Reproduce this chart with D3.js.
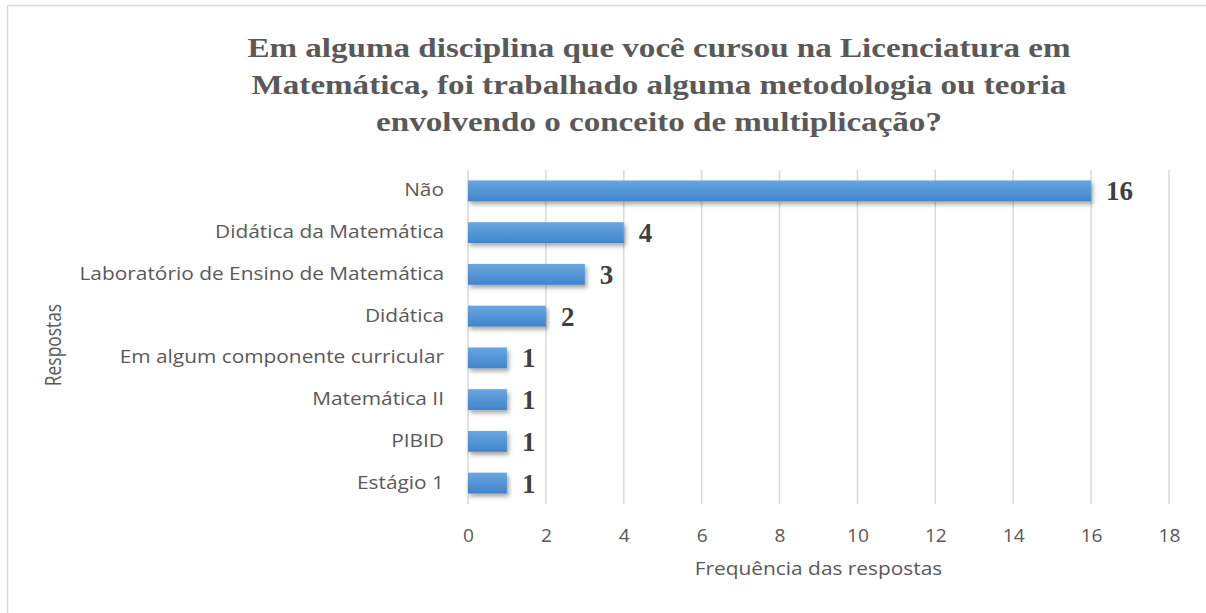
<!DOCTYPE html>
<html lang="pt">
<head>
  <meta charset="UTF-8">
  <title>Frequência das respostas</title>
  <script src="https://d3js.org/d3.v7.min.js"></script>
  <style>
    body { margin: 0; background: #fff; }
    text { fill: #595959; }
  </style>
</head>
<body>
  <div id="chart"></div>
  <script>
    // dados
    const categorias = [
      "Não",
      "Didática da Matemática",
      "Laboratório de Ensino de Matemática",
      "Didática",
      "Em algum componente curricular",
      "Matemática II",
      "PIBID",
      "Estágio 1"
    ];
    const frequencias = [16, 4, 3, 2, 1, 1, 1, 1];
    const ticksX = [0, 2, 4, 6, 8, 10, 12, 14, 16, 18];
    const tituloLinhas = [
      "Em alguma disciplina que você cursou na Licenciatura em",
      "Matemática, foi trabalhado alguma metodologia ou teoria",
      "envolvendo o conceito de multiplicação?"
    ];

    const width = 1206, height = 613;
    const margin = { top: 170, right: 37, bottom: 109, left: 468 };
    const sans = "'Open Sans', sans-serif";
    const serif = "'Liberation Serif', 'Times New Roman', serif";
    const estica = 1.2; // o original parece esticado na horizontal

    const svg = d3.select("#chart").append("svg")
      .attr("width", width)
      .attr("height", height);

    // gradiente e sombra das barras
    const defs = svg.append("defs");
    const grad = defs.append("linearGradient")
      .attr("id", "barGrad")
      .attr("x1", 0).attr("y1", 0).attr("x2", 0).attr("y2", 1);
    grad.append("stop").attr("offset", "0%").attr("stop-color", "#6aa6de");
    grad.append("stop").attr("offset", "100%").attr("stop-color", "#3f85cd");
    const sh = defs.append("filter").attr("id", "sombra")
      .attr("x", "-10%").attr("y", "-30%").attr("width", "130%").attr("height", "200%");
    sh.append("feDropShadow")
      .attr("dx", 2).attr("dy", 3).attr("stdDeviation", 2)
      .attr("flood-color", "#000").attr("flood-opacity", 0.35);

    // moldura
    svg.append("rect")
      .attr("x", 7.5).attr("y", 5.5)
      .attr("width", width).attr("height", height)
      .attr("fill", "none")
      .attr("stroke", "#d9d9d9")
      .attr("stroke-width", 1.5);

    const x = d3.scaleLinear()
      .domain([0, 18])
      .range([margin.left, width - margin.right]);

    const y = d3.scaleBand()
      .domain(categorias)
      .range([margin.top, height - margin.bottom])
      .paddingInner(0.5)
      .paddingOuter(0.25);

    // linhas de grade
    svg.append("g")
      .selectAll("line")
      .data(ticksX)
      .join("line")
      .attr("x1", d => x(d)).attr("x2", d => x(d))
      .attr("y1", margin.top).attr("y2", height - margin.bottom)
      .attr("stroke", "#d9d9d9")
      .attr("stroke-width", 1.5);

    // eixo x
    const xAxis = svg.append("g")
      .attr("transform", `translate(0,${height - margin.bottom})`)
      .call(d3.axisBottom(x).tickValues(ticksX).tickSize(0).tickPadding(0));
    xAxis.select(".domain").remove();
    xAxis.selectAll("text")
      .attr("y", 38)
      .attr("dy", null)
      .attr("transform", "scale(1.1,1)")
      .style("font-family", sans)
      .style("font-size", "17.4px")
      .style("fill", "#595959");

    // eixo y
    const yAxis = svg.append("g")
      .attr("transform", `translate(${margin.left},0)`)
      .call(d3.axisLeft(y).tickSize(0).tickPadding(24));
    yAxis.select(".domain").remove();
    yAxis.selectAll("text")
      .attr("x", -24 / estica)
      .attr("transform", `scale(${estica},1)`)
      .style("font-family", sans)
      .style("font-size", "17.4px")
      .style("fill", "#595959");

    // barras
    svg.append("g")
      .selectAll("rect")
      .data(frequencias)
      .join("rect")
      .attr("x", x(0))
      .attr("y", (d, i) => y(categorias[i]))
      .attr("width", d => x(d) - x(0))
      .attr("height", y.bandwidth())
      .attr("fill", "url(#barGrad)")
      .attr("filter", "url(#sombra)");

    // rótulos de valor
    svg.append("g")
      .selectAll("text")
      .data(frequencias)
      .join("text")
      .attr("x", d => x(d) + 15)
      .attr("y", (d, i) => y(categorias[i]) + y.bandwidth() / 2)
      .attr("dy", "0.35em")
      .style("font-family", serif)
      .style("font-weight", "bold")
      .style("font-size", "27px")
      .style("fill", "#404040")
      .text(d => d);

    // título
    svg.append("g")
      .selectAll("text")
      .data(tituloLinhas)
      .join("text")
      .attr("transform", (d, i) => `translate(659,${57 + i * 37}) scale(1.19,1)`)
      .attr("text-anchor", "middle")
      .style("font-family", serif)
      .style("font-weight", "bold")
      .style("font-size", "27.8px")
      .style("fill", "#595959")
      .text(d => d);

    // títulos dos eixos
    svg.append("text")
      .attr("transform", `translate(${x(9)},575) scale(${estica},1)`)
      .attr("text-anchor", "middle")
      .style("font-family", sans)
      .style("font-size", "17.4px")
      .text("Frequência das respostas");

    svg.append("text")
      .attr("transform", `translate(61,345) scale(${estica},1) rotate(-90)`)
      .attr("text-anchor", "middle")
      .style("font-family", sans)
      .style("font-size", "17.4px")
      .text("Respostas");
  </script>
</body>
</html>
